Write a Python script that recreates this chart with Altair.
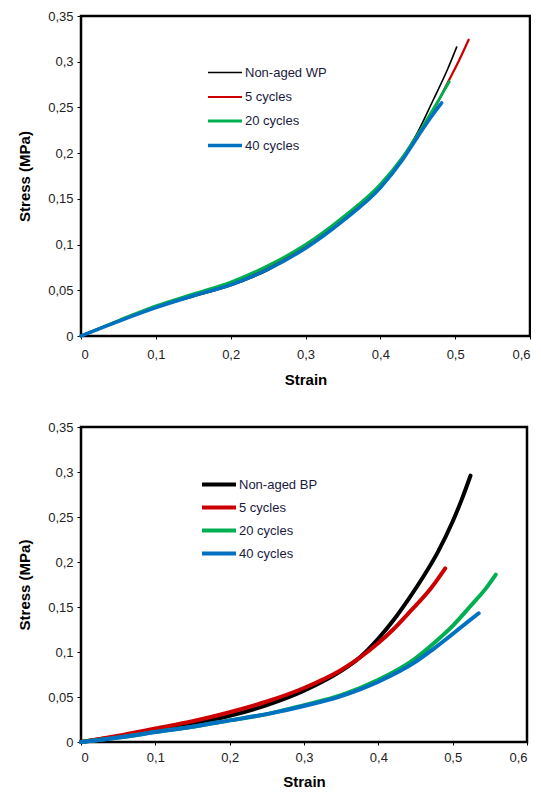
import altair as alt
import pandas as pd

series = ["Non-aged", "5 cycles", "20 cycles", "40 cycles"]
colors = ["#000000", "#cc0000", "#00b050", "#0070c0"]

# Top panel (WP)
wp_black_x = [0, 0.05, 0.1, 0.15, 0.2, 0.25, 0.3, 0.35, 0.4, 0.43, 0.45, 0.47, 0.49, 0.502]
wp_black_y = [0, 0.016, 0.031, 0.043, 0.055, 0.072, 0.097, 0.127, 0.164, 0.196, 0.223, 0.257, 0.292, 0.316]
wp_red_x = [0, 0.05, 0.1, 0.15, 0.2, 0.25, 0.3, 0.35, 0.4, 0.43, 0.455, 0.475, 0.49, 0.505, 0.518]
wp_red_y = [0, 0.0165, 0.032, 0.045, 0.058, 0.075, 0.098, 0.128, 0.164, 0.194, 0.225, 0.253, 0.277, 0.301, 0.324]
wp_green_x = [0, 0.05, 0.1, 0.15, 0.2, 0.25, 0.3, 0.35, 0.4, 0.43, 0.455, 0.475, 0.492]
wp_green_y = [0, 0.017, 0.033, 0.046, 0.059, 0.077, 0.100, 0.130, 0.166, 0.196, 0.227, 0.254, 0.278]
wp_blue_x = [0, 0.05, 0.1, 0.15, 0.2, 0.25, 0.3, 0.35, 0.4, 0.43, 0.45, 0.47, 0.482]
wp_blue_y = [0, 0.016, 0.031, 0.044, 0.056, 0.073, 0.096, 0.126, 0.162, 0.193, 0.218, 0.242, 0.255]

# Bottom panel (BP)
bp_black_x = [0, 0.05, 0.1, 0.15, 0.2, 0.25, 0.3, 0.35, 0.375, 0.4, 0.42, 0.44, 0.46, 0.48, 0.5, 0.512, 0.524]
bp_black_y = [0, 0.006, 0.013, 0.020, 0.029, 0.041, 0.057, 0.079, 0.094, 0.115, 0.135, 0.158, 0.183, 0.211, 0.245, 0.269, 0.296]
bp_red_x = [0, 0.05, 0.1, 0.15, 0.2, 0.25, 0.3, 0.35, 0.4, 0.42, 0.445, 0.47, 0.49]
bp_red_y = [0, 0.007, 0.015, 0.023, 0.033, 0.045, 0.060, 0.080, 0.110, 0.125, 0.147, 0.170, 0.193]
bp_green_x = [0, 0.05, 0.1, 0.15, 0.2, 0.25, 0.3, 0.35, 0.4, 0.45, 0.475, 0.5, 0.525, 0.545, 0.558]
bp_green_y = [0, 0.005, 0.011, 0.017, 0.024, 0.031, 0.041, 0.052, 0.069, 0.093, 0.110, 0.129, 0.152, 0.171, 0.186]
bp_blue_x = [0, 0.05, 0.1, 0.15, 0.2, 0.25, 0.3, 0.35, 0.4, 0.45, 0.473, 0.5, 0.515, 0.535]
bp_blue_y = [0, 0.005, 0.011, 0.017, 0.024, 0.031, 0.040, 0.051, 0.067, 0.089, 0.1027, 0.120, 0.130, 0.143]

x_ticks = [0, 0.1, 0.2, 0.3, 0.4, 0.5, 0.6]
y_ticks = [0, 0.05, 0.1, 0.15, 0.2, 0.25, 0.3, 0.35]


def build(names, xs, ys):
    rows = []
    for n, xv, yv in zip(names, xs, ys):
        for i, (a, b) in enumerate(zip(xv, yv)):
            rows.append({"series": n, "strain": a, "stress": b, "order": i})
    return pd.DataFrame(rows)


top_names = ["Non-aged WP"] + series[1:]
bot_names = ["Non-aged BP"] + series[1:]
top_df = build(top_names, [wp_black_x, wp_red_x, wp_green_x, wp_blue_x],
               [wp_black_y, wp_red_y, wp_green_y, wp_blue_y])
bot_df = build(bot_names, [bp_black_x, bp_red_x, bp_green_x, bp_blue_x],
               [bp_black_y, bp_red_y, bp_green_y, bp_blue_y])

FONT = "Liberation Sans"
comma = "replace(format(datum.value, '.2~f'), '.', ',')"
LINE_SYMBOL = "M-3,0H1"


def panel(df, names, widths, w, h, legend_x, legend_y, row_pad, xlp, xtp):
    xax = alt.Axis(values=x_ticks, labelExpr=comma, title="Strain", grid=False,
                   domain=False, tickColor="#000", tickSize=3, labelFont=FONT,
                   labelFontSize=13, labelColor="#222", labelPadding=xlp,
                   titleFont=FONT, titleFontSize=15,
                   titleFontWeight="bold", titleColor="#000", titlePadding=xtp)
    yax = alt.Axis(values=y_ticks, labelExpr=comma, title="Stress (MPa)", grid=False,
                   domain=False, tickColor="#000", tickSize=4, labelFont=FONT,
                   labelFontSize=13, labelColor="#222", labelPadding=4,
                   minExtent=38, titleFont=FONT, titleFontSize=15,
                   titleFontWeight="bold", titleColor="#000", titlePadding=11)
    legend = alt.Legend(title=None, orient="none", legendX=legend_x, legendY=legend_y,
                        symbolType=LINE_SYMBOL, symbolSize=289, labelFont=FONT,
                        labelFontSize=13, labelColor="#1a1a40", labelOffset=1,
                        rowPadding=row_pad, symbolOffset=0)
    return alt.Chart(df).mark_line(interpolate="monotone", strokeCap="round").encode(
        x=alt.X("strain:Q", scale=alt.Scale(domain=[0, 0.6], nice=False), axis=xax),
        y=alt.Y("stress:Q", scale=alt.Scale(domain=[0, 0.35], nice=False), axis=yax),
        color=alt.Color("series:N", scale=alt.Scale(domain=names, range=colors), legend=legend),
        strokeWidth=alt.StrokeWidth("series:N", scale=alt.Scale(domain=names, range=widths), legend=legend),
        order="order:Q",
    ).properties(width=w, height=h)


top = panel(top_df, top_names, [1.6, 3.5, 4, 4.5], 449, 320, 142, 47, 7, 9, 11)
bot = panel(bot_df, bot_names, [4, 4, 3.5, 4], 446, 315, 136, 47, 4, 6, 10)

chart = alt.concat(top, bot, columns=1, spacing=30).resolve_scale(
    color="independent", strokeWidth="independent"
).resolve_legend(color="independent", strokeWidth="independent").configure_view(
    stroke="#000", strokeWidth=2.5
).properties(background="white", padding={"left": 7, "top": 0, "right": -1, "bottom": -3})

chart.save("out.html", embed_options={"renderer": "svg", "actions": False})
